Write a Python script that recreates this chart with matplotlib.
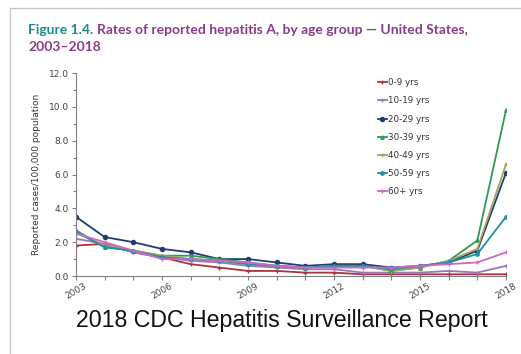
import matplotlib
matplotlib.use("Agg")
import matplotlib.pyplot as plt
from matplotlib.patches import Rectangle

years = list(range(2003, 2019))
age_groups = ["0-9 yrs", "10-19 yrs", "20-29 yrs", "30-39 yrs", "40-49 yrs", "50-59 yrs", "60+ yrs"]
rates_0_9   = [1.8, 1.9, 1.4, 1.1, 0.7, 0.5, 0.3, 0.3, 0.2, 0.2, 0.1, 0.1, 0.1, 0.1, 0.1, 0.1]
rates_10_19 = [2.2, 1.9, 1.4, 1.1, 0.9, 0.8, 0.6, 0.5, 0.4, 0.4, 0.2, 0.2, 0.2, 0.3, 0.2, 0.6]
rates_20_29 = [3.5, 2.3, 2.0, 1.6, 1.4, 1.0, 1.0, 0.8, 0.6, 0.7, 0.7, 0.5, 0.6, 0.8, 1.5, 6.1]
rates_30_39 = [2.7, 1.7, 1.5, 1.2, 1.2, 1.0, 0.8, 0.6, 0.5, 0.6, 0.6, 0.3, 0.5, 0.9, 2.1, 9.8]
rates_40_49 = [2.6, 1.8, 1.5, 1.2, 1.0, 0.9, 0.7, 0.6, 0.5, 0.6, 0.6, 0.3, 0.5, 0.9, 1.6, 6.6]
rates_50_59 = [2.6, 1.7, 1.5, 1.1, 1.0, 0.9, 0.7, 0.6, 0.5, 0.6, 0.6, 0.4, 0.6, 0.8, 1.3, 3.5]
rates_60p   = [2.5, 2.0, 1.5, 1.0, 1.0, 0.9, 0.8, 0.6, 0.5, 0.5, 0.5, 0.5, 0.6, 0.7, 0.8, 1.4]
series = [rates_0_9, rates_10_19, rates_20_29, rates_30_39, rates_40_49, rates_50_59, rates_60p]
colors = ["#a8353a", "#9a78b8", "#1f3d6e", "#2e9a58", "#a8a25a", "#1f8fa8", "#d266c6"]
markers = ["+", "+", "o", "^", "+", "o", "+"]
msizes = [3, 3, 3, 2.5, 3, 2.5, 3]
y_ticks = [0, 2, 4, 6, 8, 10, 12]
x_tick_labels = [2003, 2006, 2009, 2012, 2015, 2018]

fig = plt.figure(figsize=(5.21, 3.54), dpi=100)
fig.patch.set_facecolor("white")

# outer frame
fig.patches.append(Rectangle((10/521, -0.05), 1.0, 1 - 8/354 + 0.05, transform=fig.transFigure,
                             fill=False, edgecolor="#c8c8c8", linewidth=1.0))

ax = fig.add_axes([76/521, 1 - 276/354, (506 - 76)/521, (276 - 73)/354])
for s, lab, c, m, ms in zip(series, age_groups, colors, markers, msizes):
    ax.plot(years, s, color=c, marker=m, markersize=ms, linewidth=1.3, label=lab,
            markeredgewidth=0.9)

ax.set_xlim(2003, 2018)
ax.set_ylim(0, 12)
ax.set_yticks(y_ticks)
ax.set_yticklabels([f"{v:.1f}" for v in y_ticks])
ax.set_yticks([1, 3, 5, 7, 9, 11], minor=True)
ax.set_xticks(years, minor=True)
ax.set_xticks(x_tick_labels)
ax.set_xticklabels([str(v) for v in x_tick_labels], rotation=30)
for sp in ["top", "right"]:
    ax.spines[sp].set_visible(False)
for sp in ["left", "bottom"]:
    ax.spines[sp].set_color("#808080")
    ax.spines[sp].set_linewidth(0.8)
ax.tick_params(axis="both", which="both", direction="out", color="#808080", width=0.8)
ax.tick_params(axis="y", which="major", length=3, labelsize=6.5, labelcolor="#444444", pad=2)
ax.tick_params(axis="y", which="minor", length=2)
ax.tick_params(axis="x", which="major", length=3, labelsize=6.5, labelcolor="#444444", pad=1)
ax.tick_params(axis="x", which="minor", length=3)
ax.set_ylabel("Reported cases/100,000 population", fontsize=6.5, color="#333333", labelpad=6)

leg = ax.legend(loc="upper left", bbox_to_anchor=(0.69, 1.0), frameon=False, fontsize=6.3,
                handlelength=1.0, handletextpad=0.1, labelspacing=1.05, borderaxespad=0.2)
for t in leg.get_texts():
    t.set_color("#333333")

# title
tfont = dict(fontsize=10.0, fontweight="bold", family="Lato")
t1 = fig.text(28/521, 1 - 30/354, "Figure 1.4.", color="#1a8c8c", va="center", ha="left", **tfont)
fig.add_artist(plt.Annotation("Rates of reported hepatitis A, by age group \u2014 United States,",
               xy=(1, 0.5), xycoords=t1, xytext=(2.5, 0), textcoords="offset points",
               color="#8c3a8c", va="center", ha="left", **tfont))
fig.text(28/521, 1 - 47/354, "2003\u20132018", color="#8c3a8c", va="center", ha="left", **tfont)

fig.text(282/521, 1 - 320/354, "2018 CDC Hepatitis Surveillance Report", fontsize=16.7,
         family="Liberation Sans", color="#111111", ha="center", va="center")

fig.savefig("out.png", dpi=100)
